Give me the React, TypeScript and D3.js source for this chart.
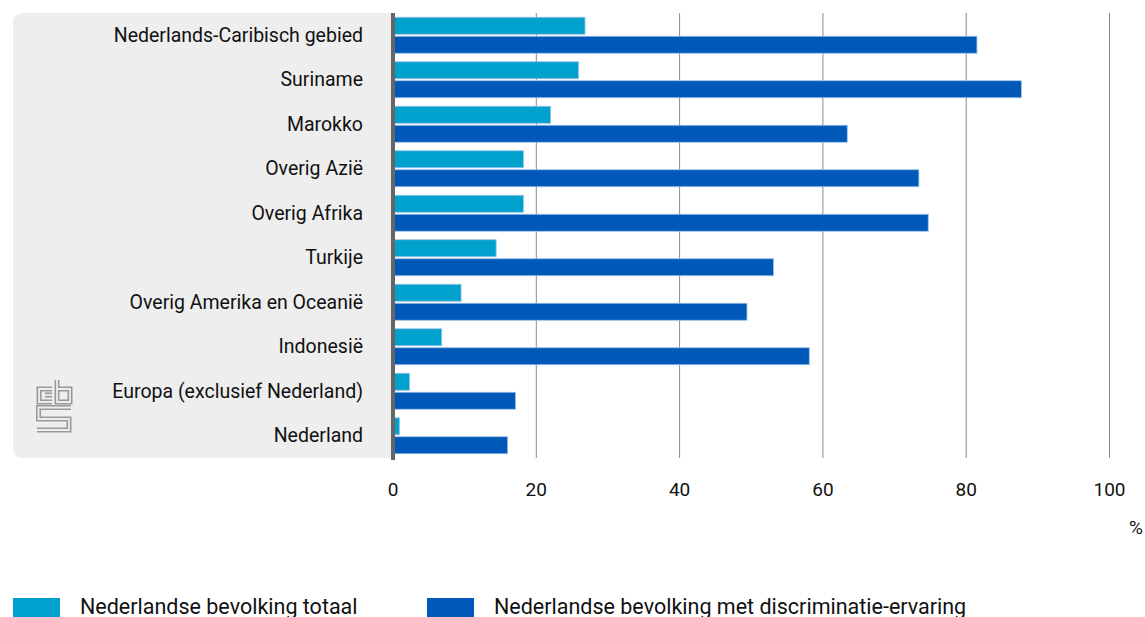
import * as d3 from "d3";

const categories = [
  "Nederlands-Caribisch gebied",
  "Suriname",
  "Marokko",
  "Overig Azië",
  "Overig Afrika",
  "Turkije",
  "Overig Amerika en Oceanië",
  "Indonesië",
  "Europa (exclusief Nederland)",
  "Nederland",
];

const totaal = [26.8, 25.9, 22.0, 18.2, 18.2, 14.4, 9.5, 6.8, 2.3, 0.9];
const metDiscriminatie = [81.5, 87.7, 63.4, 73.4, 74.7, 53.1, 49.4, 58.1, 17.1, 16.0];

const seriesNames = [
  "Nederlandse bevolking totaal",
  "Nederlandse bevolking met discriminatie-ervaring",
];
const seriesColors = ["#00a1cd", "#0058b8"];
const ticks = [0, 20, 40, 60, 80, 100];

const font = "Roboto, 'Noto Sans', sans-serif";

const CbsLogo = () => {
  // thick grey stroke with a thin light stroke on top -> outlined look
  const paths = [
    "M52,389 H39 V402 H52",
    "M52,395 H45",
    "M57,380 V402 H70 V389 H57",
    "M71,407.5 H38.5 V419 H69 V430 H37",
  ];
  return (
    <g fill="none" strokeLinejoin="miter">
      {paths.map((d, i) => (
        <path key={"o" + i} d={d} stroke="#999999" strokeWidth={5} />
      ))}
      {paths.map((d, i) => (
        <path key={"i" + i} d={d} stroke="#eeeeee" strokeWidth={1.8} />
      ))}
    </g>
  );
};

const Chart = () => {
  const width = 1145;
  const height = 617;
  const top = 13;
  const bottom = 458;

  const x = d3.scaleLinear().domain([0, 100]).range([393, 1109.5]);
  const y = d3.scaleBand().domain(categories).range([top, bottom]).paddingInner(0);
  const sub = d3
    .scaleBand()
    .domain(seriesNames)
    .range([0, y.bandwidth()])
    .paddingInner(0.105)
    .paddingOuter(0.224);

  const values = [totaal, metDiscriminatie];

  return (
    <svg width={width} height={height} style={{ display: "block" }}>
      {/* grey label panel, rounded on the left */}
      <path
        d={`M${x(0)},${top} H23 Q13,${top} 13,${top + 10} V${bottom - 10} Q13,${bottom} 23,${bottom} H${x(0)} Z`}
        fill="#eeeeee"
      />

      {/* gridlines */}
      {ticks.slice(1).map((t) => (
        <line
          key={t}
          x1={x(t)}
          x2={x(t)}
          y1={top}
          y2={bottom}
          stroke="#8a8a8a"
          strokeWidth={1}
        />
      ))}

      {/* bars */}
      {values.map((vals, s) =>
        categories.map((c, i) => (
          <rect
            key={s + "-" + c}
            x={x(0)}
            y={(y(c) as number) + (sub(seriesNames[s]) as number)}
            width={x(vals[i]) - x(0)}
            height={sub.bandwidth()}
            fill={seriesColors[s]}
            stroke="#9cc3ea"
            strokeWidth={0.8}
          />
        ))
      )}

      {/* axis line */}
      <line x1={x(0)} x2={x(0)} y1={top} y2={bottom + 2} stroke="#666666" strokeWidth={4} />

      {/* category labels */}
      {categories.map((c) => (
        <text
          key={c}
          x={363}
          y={(y(c) as number) + y.bandwidth() / 2}
          textAnchor="end"
          dominantBaseline="central"
          fontSize={19.5}
          fontFamily={font}
          fill="#111"
        >
          {c}
        </text>
      ))}

      <CbsLogo />

      {/* tick labels */}
      {ticks.map((t) => (
        <text
          key={t}
          x={x(t)}
          y={489}
          textAnchor="middle"
          dominantBaseline="central"
          fontSize={19}
          fontFamily={font}
          fill="#111"
        >
          {t}
        </text>
      ))}
      <text
        x={1136}
        y={527}
        textAnchor="middle"
        dominantBaseline="central"
        fontSize={19}
        fontFamily={font}
        fill="#111"
      >
        %
      </text>

      {/* legend */}
      {seriesNames.map((n, i) => {
        const lx = [13, 427][i];
        return (
          <g key={n}>
            <rect x={lx} y={598} width={47} height={22} fill={seriesColors[i]} />
            <text
              x={lx + 67}
              y={606}
              dominantBaseline="central"
              fontSize={21.5}
              fontFamily={font}
              fill="#111"
            >
              {n}
            </text>
          </g>
        );
      })}
    </svg>
  );
};

export default function App() {
  return (
    <div
      style={{
        position: "absolute",
        left: 0,
        top: 0,
        width: 1145,
        height: 617,
        overflow: "hidden",
        background: "#ffffff",
      }}
    >
      <Chart />
    </div>
  );
}
